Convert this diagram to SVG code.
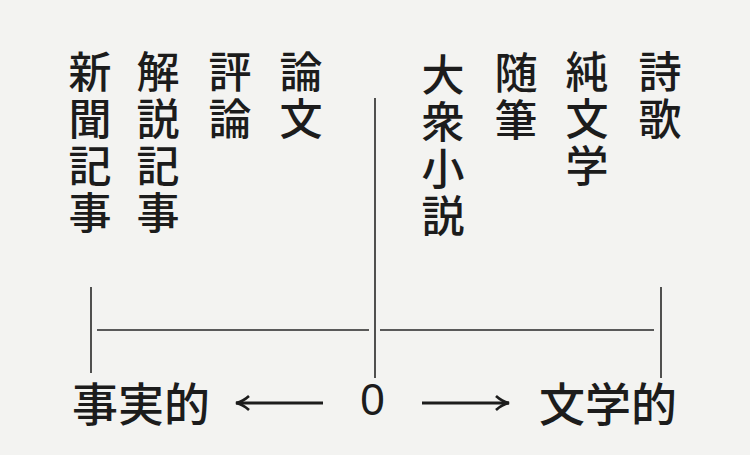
<svg xmlns="http://www.w3.org/2000/svg" width="750" height="455" viewBox="0 0 750 455">
<defs>
<style>
.v{font-family:"Noto Sans CJK JP","Noto Sans CJK SC",sans-serif;font-size:43px;font-weight:500;fill:#1c1c1c;text-anchor:middle}
.b{font-family:"Noto Sans CJK JP","Noto Sans CJK SC",sans-serif;font-size:46px;font-weight:500;fill:#1c1c1c}
.z{font-family:"Liberation Sans",sans-serif;font-size:44px;fill:#1c1c1c;text-anchor:middle}
.ln{stroke:#262626;stroke-width:1.6;fill:none}
.ar{stroke:#1c1c1c;stroke-width:2.8;fill:none}
</style>
<marker id="ah" viewBox="0 0 16 16" refX="15" refY="8" markerWidth="16" markerHeight="16" markerUnits="userSpaceOnUse" orient="auto">
<path d="M2,1 Q8,6.5 15,8 Q8,9.5 2,15" fill="none" stroke="#1c1c1c" stroke-width="2.6"/>
</marker>
</defs>
<rect width="750" height="455" fill="#f3f3f1"/>
<g id="col-shinbun"><text class="v" x="90" y="88">新</text><text class="v" x="90" y="135">聞</text><text class="v" x="90" y="182">記</text><text class="v" x="90" y="229">事</text></g>
<g id="col-kaisetsu"><text class="v" x="158" y="88">解</text><text class="v" x="158" y="135">説</text><text class="v" x="158" y="182">記</text><text class="v" x="158" y="229">事</text></g>
<g id="col-hyoron"><text class="v" x="230" y="88">評</text><text class="v" x="230" y="135">論</text></g>
<g id="col-ronbun"><text class="v" x="301" y="88">論</text><text class="v" x="301" y="135">文</text></g>
<g id="col-taishu"><text class="v" x="443" y="91">大</text><text class="v" x="443" y="138">衆</text><text class="v" x="443" y="185">小</text><text class="v" x="443" y="232">説</text></g>
<g id="col-zuihitsu"><text class="v" x="516" y="89">随</text><text class="v" x="516" y="136">筆</text></g>
<g id="col-junbungaku"><text class="v" x="587" y="88">純</text><text class="v" x="587" y="135">文</text><text class="v" x="587" y="182">学</text></g>
<g id="col-shika"><text class="v" x="660" y="88">詩</text><text class="v" x="660" y="135">歌</text></g>
<g id="connectors">
<line class="ln" x1="91" y1="287" x2="91" y2="373"/>
<line class="ln" x1="375" y1="98" x2="375" y2="378"/>
<line class="ln" x1="661" y1="287" x2="661" y2="378"/>
<line class="ln" x1="97" y1="330" x2="369" y2="330"/>
<line class="ln" x1="380" y1="330" x2="654" y2="330"/>
<line class="ar" x1="323" y1="403" x2="236" y2="403" marker-end="url(#ah)"/>
<line class="ar" x1="422" y1="403" x2="509" y2="403" marker-end="url(#ah)"/>
</g>
<g id="axis-labels">
<text class="b" x="72" y="421">事実的</text>
<text class="z" x="372.5" y="415">0</text>
<text class="b" x="539" y="421">文学的</text>
</g>
</svg>
